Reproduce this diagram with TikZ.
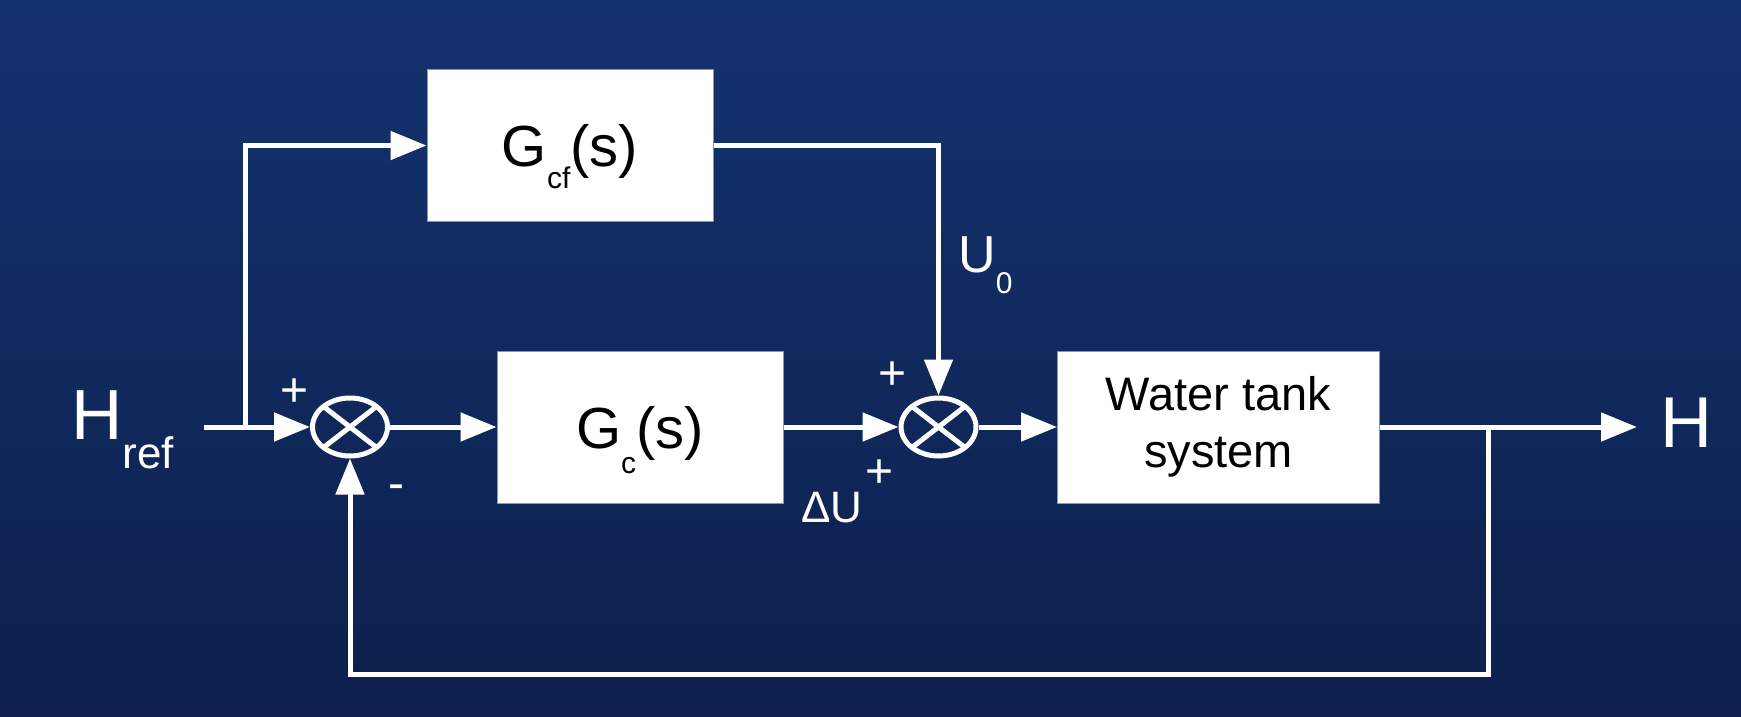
\documentclass[tikz,border=0pt]{standalone}
\usepackage{fontspec}
\setmainfont{Liberation Sans}
\usetikzlibrary{arrows.meta,shapes.geometric}
\definecolor{bgtop}{RGB}{19,51,111}
\definecolor{bgbot}{RGB}{14,31,76}
\definecolor{boxedge}{RGB}{140,150,165}
\begin{document}
\begin{tikzpicture}[x=1pt,y=-1pt,
  wire/.style={white, line width=5pt},
  arr/.style={wire, -{Triangle[length=36pt,width=28pt]}},
  blk/.style={draw=boxedge, line width=1pt, fill=white, inner sep=0pt, text height=42pt, text depth=0pt, font=\fontsize{58}{62}\selectfont},
  sumj/.style={ellipse, draw=white, line width=5pt, minimum width=75pt, minimum height=58pt, inner sep=0pt,
    path picture={\draw[white, line width=5pt] (path picture bounding box.north west) -- (path picture bounding box.south east) (path picture bounding box.north east) -- (path picture bounding box.south west);}},
  lbl/.style={text=white, inner sep=0pt, anchor=base west},
  sgn/.style={text=white, inner sep=0pt, anchor=base, font=\fontsize{48}{48}\selectfont}]
\shade[top color=bgtop, bottom color=bgbot] (0,0) rectangle (1741,717);
\useasboundingbox (0,0) rectangle (1741,717);

\node[blk, minimum width=286pt, minimum height=151pt] (gcf) at (570,145.5) {G\raisebox{-22pt}[0pt][0pt]{\fontsize{30}{30}\selectfont cf}(s)};
\node[blk, minimum width=286pt, minimum height=152pt] (gc) at (640,427) {G\raisebox{-25pt}[0pt][0pt]{\fontsize{30}{30}\selectfont c}(s)};
\node[blk, minimum width=322pt, minimum height=152pt, align=center, text height={}, text depth={}, font=\fontsize{47}{57}\selectfont] (tank) at (1218.5,427) {Water tank\\system};

\node[sumj] (s1) at (350,427) {};
\node[sumj] (s2) at (938.5,427) {};

\coordinate (in) at (204,427);
\coordinate (br1) at (245,427);
\coordinate (br2) at (1488,427);
\coordinate (out) at (1637,427);
\coordinate (fb) at (1488,674);

\draw[arr] (in) -- (s1.west);
\draw[arr] (br1) |- (gcf.west);
\draw[arr] (s1.east) -- (gc.west);
\draw[arr] (gc.east) -- (s2.west);
\draw[arr] (gcf.east) -| (s2.north);
\draw[arr] (s2.east) -- (tank.west);
\draw[arr] (tank.east) -- (out);
\draw[arr] (br2) |- (fb) -| (s1.south);

\node[lbl, font=\fontsize{71}{71}\selectfont] (href) at (71,439) {H\raisebox{-29pt}{\fontsize{44}{44}\selectfont ref}};
\node[lbl, font=\fontsize{72}{72}\selectfont] (hout) at (1660,447) {H};
\node[lbl, font=\fontsize{52}{52}\selectfont] (u0) at (958,272) {U\raisebox{-21pt}{\fontsize{30}{30}\selectfont 0}};
\node[lbl, font=\fontsize{44}{44}\selectfont] (du) at (801,522) {ΔU};
\node[sgn] (p1) at (295,406) {+};
\node[sgn] (m1) at (396,499) {-};
\node[sgn] (p2) at (893,389) {+};
\node[sgn] (p3) at (880,487) {+};
\end{tikzpicture}
\end{document}
